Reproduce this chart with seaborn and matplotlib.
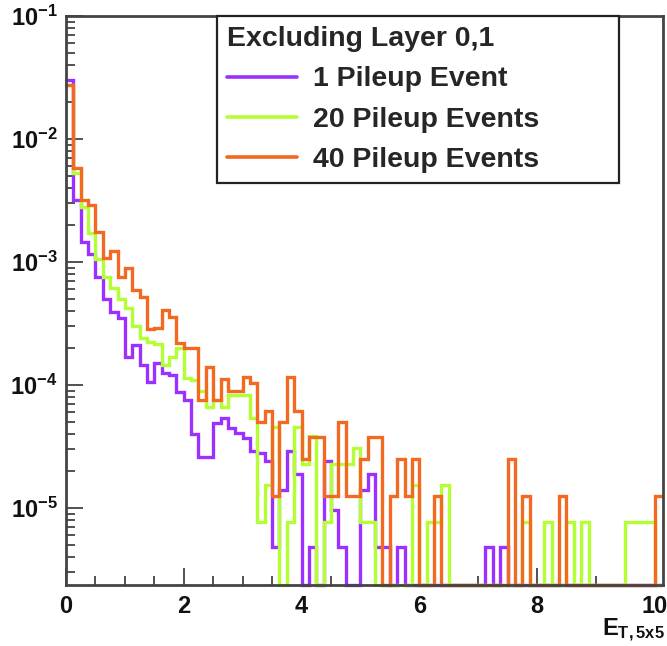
import numpy as np
import pandas as pd
import matplotlib
matplotlib.use("Agg")
import matplotlib.pyplot as plt
from matplotlib.lines import Line2D
from matplotlib.ticker import (FixedLocator, FuncFormatter, LogLocator,
                               MultipleLocator, NullFormatter)
import seaborn as sns

# Normalised E_T(5x5) spectra, 0.125-wide bins starting at 0
bin_width = 0.125

pileup_1 = [
    3.0e-2, 3.2e-3, 1.46e-3, 1.17e-3, 7.5e-4, 5.0e-4, 3.9e-4, 3.5e-4, 1.7e-4, 2.1e-4,
    1.45e-4, 1.05e-4, 1.5e-4, 1.25e-4, 1.2e-4, 8.8e-5, 7.5e-5, 4.0e-5, 2.6e-5, 2.6e-5,
    4.9e-5, 5.4e-5, 4.5e-5, 4.1e-5, 3.7e-5, 2.9e-5, 2.8e-5, 2.4e-5, 4.8e-6, 1.4e-5,
    2.9e-5, 1.9e-5, 0, 4.8e-6, 0, 2.4e-5, 9.6e-6, 4.8e-6, 0, 0,
    1.4e-5, 1.9e-5, 4.8e-6, 4.8e-6, 0, 4.8e-6, 0, 0, 0, 0,
    0, 0, 0, 0, 0, 0, 0, 4.8e-6, 0, 4.8e-6,
    0, 0, 0, 0, 0, 0, 0, 0, 0, 0,
    0, 0, 0, 0, 0, 0, 0, 0, 0, 0,
    0,
]
pileup_20 = [
    2.75e-2, 5.3e-3, 2.8e-3, 1.71e-3, 1.05e-3, 7.6e-4, 6.1e-4, 5.0e-4, 4.2e-4, 3.0e-4,
    2.4e-4, 2.25e-4, 2.15e-4, 1.45e-4, 1.7e-4, 2.0e-4, 1.15e-4, 1.1e-4, 9.0e-5, 6.6e-5,
    7.5e-5, 6.6e-5, 8.3e-5, 8.3e-5, 8.3e-5, 5.4e-5, 7.7e-6, 1.54e-5, 4.6e-5, 0,
    7.7e-6, 4.6e-5, 2.3e-5, 3.85e-5, 0, 7.7e-6, 2.3e-5, 2.3e-5, 2.3e-5, 3.1e-5,
    7.7e-6, 7.7e-6, 0, 0, 0, 0, 0, 1.54e-5, 0, 7.7e-6,
    7.7e-6, 1.54e-5, 0, 0, 0, 0, 0, 0, 0, 0,
    0, 0, 7.7e-6, 0, 0, 7.7e-6, 0, 0, 7.7e-6, 0,
    7.7e-6, 0, 0, 0, 0, 0, 7.7e-6, 7.7e-6, 7.7e-6, 7.7e-6,
    0,
]
pileup_40 = [
    2.75e-2, 5.8e-3, 3.2e-3, 2.9e-3, 1.75e-3, 1.08e-3, 1.22e-3, 7.6e-4, 8.9e-4, 5.9e-4,
    5.2e-4, 2.85e-4, 2.9e-4, 4.1e-4, 3.55e-4, 2.2e-4, 2.0e-4, 2.0e-4, 7.6e-5, 1.4e-4,
    7.6e-5, 1.13e-4, 9.0e-5, 9.0e-5, 1.17e-4, 1.04e-4, 5.0e-5, 6.2e-5, 1.25e-5, 5.0e-5,
    1.17e-4, 6.2e-5, 2.5e-5, 3.75e-5, 3.75e-5, 1.25e-5, 1.25e-5, 5.0e-5, 1.25e-5, 1.25e-5,
    2.5e-5, 3.75e-5, 3.75e-5, 0, 1.25e-5, 2.5e-5, 1.25e-5, 2.5e-5, 0, 0,
    1.25e-5, 0, 0, 0, 0, 0, 0, 0, 0, 0,
    2.5e-5, 0, 1.25e-5, 0, 0, 0, 0, 1.25e-5, 0, 0,
    0, 0, 0, 0, 0, 0, 0, 0, 0, 0,
    1.25e-5,
]

series_labels = ["1 Pileup Event", "20 Pileup Events", "40 Pileup Events"]
series_colors = ["#9B30FF", "#B4FF33", "#F26A22"]
legend_title = "Excluding Layer 0,1"
x_ticks = [0, 2, 4, 6, 8, 10]
x_label = r"$\mathbf{E}_{\mathbf{T,5x5}}$"

sns.set_style("ticks")
plt.rcParams.update({
    "font.family": ["Liberation Sans", "DejaVu Sans"],
    "font.weight": "bold",
    "mathtext.fontset": "custom",
    "mathtext.rm": "Liberation Sans:bold",
    "mathtext.bf": "Liberation Sans:bold",
    "mathtext.it": "Liberation Sans:bold",
    "mathtext.sf": "Liberation Sans:bold",
})

W, H = 667, 646
fig = plt.figure(figsize=(W / 100, H / 100), dpi=100)
ax = fig.add_axes([66 / W, 61 / H, 597 / W, 569 / H])

y_min, y_max = 2.37e-6, 0.1
x_max = 10.14

n_bins = len(pileup_1)
edges = [i * bin_width for i in range(n_bins + 1)]
centers = np.asarray(edges[:-1]) + bin_width / 2

# empty bins sit on the lower edge of the log axis
frames = []
for label, vals in zip(series_labels, [pileup_1, pileup_20, pileup_40]):
    v = np.asarray(vals, dtype=float)
    frames.append(pd.DataFrame({
        "E_T": centers,
        "fraction": np.where(v > 0, v, y_min),
        "sample": label,
    }))
df = pd.concat(frames, ignore_index=True)

palette = dict(zip(series_labels, series_colors))
# seaborn draws hue levels in reverse order: 40 pileup ends up on top
sns.histplot(data=df, x="E_T", weights="fraction", hue="sample",
             hue_order=series_labels[::-1], palette=palette, bins=edges,
             element="step", fill=False, linewidth=2.4, legend=False, ax=ax)
for line in ax.lines:
    line.set_clip_on(False)
    line.set_solid_joinstyle("miter")

ax.set_yscale("log")
ax.set_xlim(0, x_max)
ax.set_ylim(y_min, y_max)
ax.set_xlabel("")
ax.set_ylabel("")

ax.xaxis.set_major_locator(FixedLocator(x_ticks))
ax.xaxis.set_minor_locator(MultipleLocator(0.5))
ax.yaxis.set_major_locator(LogLocator(base=10, numticks=20))
ax.yaxis.set_minor_locator(LogLocator(base=10, subs=np.arange(2, 10), numticks=20))
ax.yaxis.set_minor_formatter(NullFormatter())
ax.xaxis.set_major_formatter(FuncFormatter(lambda v, pos: f"{v:g}"))
ax.yaxis.set_major_formatter(
    FuncFormatter(lambda v, pos: r"$\mathbf{10^{%d}}$" % round(np.log10(v))))

ax.tick_params(which="both", direction="in", top=False, right=False,
               color="#333333", width=1.2, labelsize=17, labelcolor="#111111")
ax.tick_params(which="major", length=12)
ax.tick_params(which="minor", length=6.5)
ax.tick_params(axis="x", pad=7)
ax.tick_params(axis="y", pad=6)

for side in ["left", "bottom", "top", "right"]:
    ax.spines[side].set_visible(True)
    ax.spines[side].set_linewidth(2.0)
    ax.spines[side].set_color("#444444")

handles = [Line2D([], [], color=c, linewidth=2.6) for c in series_colors]
leg = ax.legend(handles, series_labels, title=legend_title,
                loc="upper left", bbox_to_anchor=(0.253, 0.7065, 0.673, 0.2935),
                mode="expand", borderaxespad=0, fancybox=False, framealpha=1,
                fontsize=20.5, title_fontproperties={"weight": "bold", "size": 20.5},
                handlelength=2.45, handletextpad=0.55, labelspacing=0.5,
                borderpad=0.36, alignment="left")
leg.get_frame().set_edgecolor("#222222")
leg.get_frame().set_linewidth(1.6)
for t in leg.get_texts():
    t.set_fontweight("bold")

fig.text(665 / W, (H - 636) / H, x_label, fontsize=17, ha="right",
         va="baseline", color="#111111")

fig.savefig("out.png", dpi=100, facecolor="white")
